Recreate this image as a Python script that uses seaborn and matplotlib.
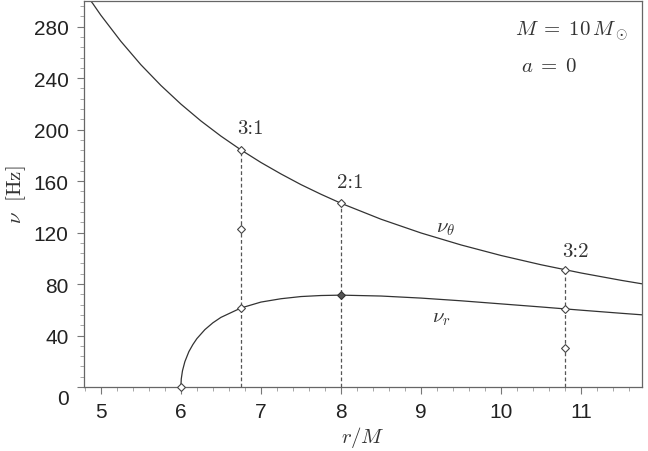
import numpy as np
import pandas as pd
import matplotlib
matplotlib.use("Agg")
import matplotlib.pyplot as plt
import matplotlib.transforms as mtransforms
import seaborn as sns

# values (Hz)
r_theta = [4.79, 4.9, 5.0, 5.25, 5.5, 5.75, 6.0, 6.25, 6.5, 6.75, 7.0, 7.25, 7.5,
           7.75, 8.0, 8.5, 9.0, 9.5, 10.0, 10.5, 11.0, 11.5, 11.76]
nu_theta = [307.0, 298.0, 289.0, 268.7, 250.5, 234.4, 219.9, 206.8, 195.0, 184.3, 174.5,
            165.6, 157.3, 149.8, 142.8, 130.4, 119.7, 110.4, 102.2, 95.0, 88.6, 82.9, 80.2]

r_rad = [6.0, 6.005, 6.02, 6.05, 6.1, 6.15, 6.2, 6.3, 6.4, 6.5, 6.75, 7.0, 7.25, 7.5,
         7.75, 8.0, 8.5, 9.0, 9.5, 10.0, 10.5, 11.0, 11.5, 11.76]
nu_rad = [0.0, 6.3, 12.6, 19.7, 27.5, 33.0, 37.6, 44.6, 49.9, 54.1, 61.4, 66.0, 68.6, 70.3,
          71.1, 71.4, 70.7, 69.1, 67.0, 64.6, 62.2, 59.7, 57.3, 56.1]

# resonance radii and the marked frequencies
res_r = [6.75, 8.0, 10.8]
res_nu_theta = [184.3, 142.8, 91.1]
res_labels = ["3:1", "2:1", "3:2"]
open_r = [6.75, 6.75, 6.75, 8.0, 10.8, 10.8, 10.8, 6.0]
open_nu = [184.3, 122.8, 61.4, 142.8, 91.1, 60.7, 30.4, 0.0]
filled_r = [8.0]
filled_nu = [71.4]

sns.set_theme(style="ticks")
plt.rcParams["font.family"] = ["Liberation Sans", "DejaVu Sans"]
plt.rcParams["mathtext.fontset"] = "cm"
plt.rcParams["axes.unicode_minus"] = False

fig = plt.figure(figsize=(6.48, 4.52), dpi=100)
ax = fig.add_axes([84 / 648, 64 / 452, 558 / 648, 386 / 452])

line_c = "#333333"
sns.lineplot(x=r_theta, y=nu_theta, ax=ax, color=line_c, lw=0.9, sort=False)
sns.lineplot(x=r_rad, y=nu_rad, ax=ax, color=line_c, lw=0.9, sort=False)

for rr, nt in zip(res_r, res_nu_theta):
    ax.plot([rr, rr], [0, nt], ls=(0, (3, 2)), color="#555555", lw=0.9, zorder=1)

sns.scatterplot(x=open_r, y=open_nu, ax=ax, marker="D", s=16, facecolor="white",
                edgecolor="#444444", linewidth=0.8, zorder=5, clip_on=False)
sns.scatterplot(x=filled_r, y=filled_nu, ax=ax, marker="D", s=16, color="#555555",
                edgecolor="#333333", linewidth=0.8, zorder=5)

lab_pos = [(6.87, 201), (8.12, 159), (10.93, 106)]
for (lx, ly), lab in zip(lab_pos, res_labels):
    ax.text(lx, ly, lab, fontsize=15, family="cmr10", ha="center", va="center", color="#333333")

ax.text(9.31, 124, r"$\nu_\theta$", fontsize=15, ha="center", va="center", color="#333333")
ax.text(9.25, 54, r"$\nu_r$", fontsize=15, ha="center", va="center", color="#333333")
ax.text(11.59, 277, r"$M\;=\;10\,M_\odot$", fontsize=15, ha="right", va="center", color="#333333")
ax.text(10.25, 250, r"$a\;=\;0$", fontsize=15, ha="left", va="center", color="#333333")

ax.set_xlim(4.79, 11.76)
ax.set_ylim(0, 300)
ax.set_xticks([5, 6, 7, 8, 9, 10, 11])
ax.set_xticks(np.arange(4.8, 11.8, 0.2), minor=True)
ax.set_yticks([0, 40, 80, 120, 160, 200, 240, 280])
ax.set_yticks(np.arange(0, 300, 8), minor=True)

for s in ax.spines.values():
    s.set_color("#666666")
    s.set_linewidth(0.9)
ax.tick_params(which="major", length=5, width=0.8, color="#777777", labelsize=15,
               labelcolor="#222222", pad=6)
ax.tick_params(which="minor", length=3, width=0.6, color="#999999")

# the "0" label sits a little lower in the reference
zero_lab = ax.get_yticklabels()[0]
zero_lab.set_transform(zero_lab.get_transform() +
                       mtransforms.ScaledTranslation(0, -10 / 100, fig.dpi_scale_trans))

ax.set_xlabel(r"$r/M$", fontsize=15, color="#333333", labelpad=2)
ax.set_ylabel(r"$\nu\ \ [\mathrm{Hz}]$", fontsize=15, color="#333333", labelpad=4)

fig.savefig("out.png", dpi=100)
